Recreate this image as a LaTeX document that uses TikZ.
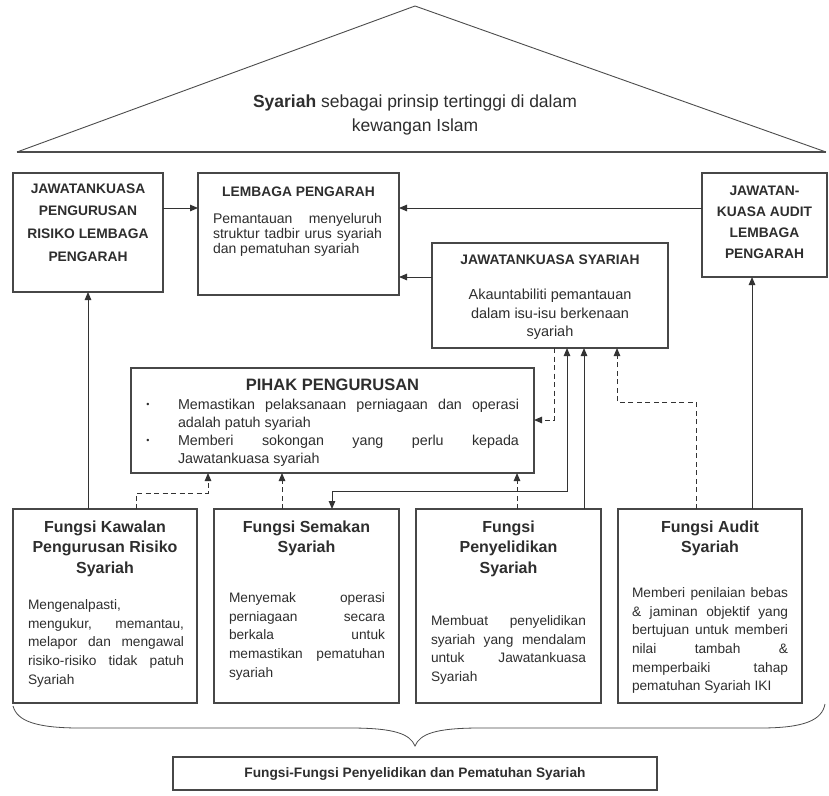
\documentclass[tikz,border=0pt]{standalone}
\usepackage{fontspec}
\setmainfont{Liberation Sans}
\usetikzlibrary{arrows.meta,calc}
\newcommand\J[2]{\makebox[#1][s]{#2}}
\begin{document}
\begin{tikzpicture}[x=1pt,y=-1pt,
  box/.style={draw=black!72,line width=1.1pt,inner sep=0pt,outer sep=0pt,fill=white},
  txt/.style={inner sep=0pt,outer sep=0pt,text=black!82},
  hdr/.style={txt,align=center,font=\bfseries\fontsize{13.8}{21}\selectfont},
  fhdr/.style={txt,align=center,font=\bfseries\fontsize{16}{20.5}\selectfont},
  body/.style={txt,align=left,font=\fontsize{13.7}{18.7}\selectfont},
  arr/.style={draw=black!80,line width=1pt,-{Triangle[length=8pt,width=6.5pt]}},
  biarr/.style={draw=black!80,line width=1pt,{Triangle[length=8pt,width=6.5pt]}-{Triangle[length=8pt,width=6.5pt]}},
  darr/.style={arr,dash pattern=on 5pt off 3.5pt},
  roofline/.style={draw=black!70,line width=0.9pt},
  bracel/.style={draw=black!70,line width=0.8pt}
]
\useasboundingbox (0,0) rectangle (829,795);
\fill[white] (0,0) rectangle (829,795);

% roof
\draw[roofline] (17,152) -- (415,6) -- (826,152);
\draw[draw=black!70,line width=1.6pt] (17,152) -- (826,152);
\node[txt,anchor=north,align=center,font=\fontsize{17.5}{23.5}\selectfont] (troof) at (415,95)
  {\textbf{Syariah} sebagai prinsip tertinggi di dalam\\kewangan Islam};

% boxes
\node[box,minimum width=150pt,minimum height=119pt] (jrlp) at (88,232.5) {};
\node[box,minimum width=201pt,minimum height=122pt] (lp) at (298.5,234) {};
\node[box,minimum width=125pt,minimum height=104pt] (jka) at (764.5,225) {};
\node[box,minimum width=236pt,minimum height=105pt] (js) at (550,295.5) {};
\node[box,minimum width=403pt,minimum height=105pt] (pp) at (332.5,420.5) {};
\node[box,minimum width=184pt,minimum height=194pt] (kaw) at (105,606) {};
\node[box,minimum width=185pt,minimum height=194pt] (sem) at (306.5,606) {};
\node[box,minimum width=185pt,minimum height=194pt] (pen) at (508.5,606) {};
\node[box,minimum width=184pt,minimum height=194pt] (aud) at (710,606) {};
\node[box,minimum width=484pt,minimum height=33pt] (fin) at (415,773.5) {};

% helper coordinates
\coordinate (yA) at (0,208);
\coordinate (yB) at (0,277);
\coordinate (yC) at (0,491);
\coordinate (yD) at (0,493);
\coordinate (yE) at (0,420);
\coordinate (yF) at (0,402);
\coordinate (xA) at (752,0);
\coordinate (xB) at (584,0);
\coordinate (xC) at (567,0);
\coordinate (xD) at (332,0);
\coordinate (xE) at (136,0);
\coordinate (xF) at (208,0);
\coordinate (xG) at (282,0);
\coordinate (xH) at (517,0);
\coordinate (xI) at (554,0);
\coordinate (xJ) at (696,0);
\coordinate (xK) at (617,0);

% connectors
\draw[arr] (jrlp.east |- yA) -- (lp.west |- yA);
\draw[arr] (jka.west |- yA) -- (lp.east |- yA);
\draw[arr] (js.west |- yB) -- (lp.east |- yB);
\draw[arr] (kaw.north -| jrlp.south) -- (jrlp.south);
\draw[arr] (aud.north -| xA) -- (jka.south -| xA);
\draw[arr] (pen.north -| xB) -- (js.south -| xB);
\draw[biarr] (sem.north -| xD) -- (xD |- yC) -- (xC |- yC) -- (js.south -| xC);
\draw[darr] (kaw.north -| xE) -- (xE |- yD) -- (xF |- yD) -- (pp.south -| xF);
\draw[darr] (sem.north -| xG) -- (pp.south -| xG);
\draw[darr] (pen.north -| xH) -- (pp.south -| xH);
\draw[darr] (js.south -| xI) -- (xI |- yE) -- (pp.east |- yE);
\draw[darr] (aud.north -| xJ) -- (xJ |- yF) -- (xK |- yF) -- (js.south -| xK);

% brace
\draw[bracel] (13,706) .. controls (17,721) and (36,728) .. (80,728) -- (350,728)
  .. controls (395,728) and (410,734) .. (415,746)
  .. controls (420,734) and (435,728) .. (480,728) -- (760,728)
  .. controls (805,728) and (822,720) .. (825,704);

% texts upper
\node[hdr,anchor=north,font=\bfseries\fontsize{13.8}{22.7}\selectfont] (tjrlp) at (88,183.5)
  {JAWATANKUASA\\PENGURUSAN\\RISIKO LEMBAGA\\PENGARAH};
\node[hdr,anchor=north] (tlp) at (298.5,186.5) {LEMBAGA PENGARAH};
\node[txt,anchor=north west,align=left,font=\fontsize{14}{15}\selectfont] (blp) at (213,213.5)
  {\J{169pt}{Pemantauan menyeluruh}\\\J{169pt}{struktur tadbir urus syariah}\\dan pematuhan syariah};
\node[hdr,anchor=north] (tjka) at (764.5,186.5) {JAWATAN-\\KUASA AUDIT\\LEMBAGA\\PENGARAH};
\node[hdr,anchor=north] (tjs) at (550,254.5) {JAWATANKUASA SYARIAH};
\node[txt,anchor=north,align=center,font=\fontsize{14.5}{18.5}\selectfont] (bjs) at (550,289)
  {Akauntabiliti pemantauan\\dalam isu-isu berkenaan\\syariah};

% pihak pengurusan
\node[txt,anchor=north,font=\bfseries\fontsize{16.5}{20}\selectfont] (tpp) at (332.5,378.5) {PIHAK PENGURUSAN};
\node[txt,anchor=north west,align=left,font=\fontsize{14.3}{17.8}\selectfont] (bpp) at (178,399.3)
  {\J{341pt}{Memastikan pelaksanaan perniagaan dan operasi}\\adalah patuh syariah\\\J{341pt}{Memberi sokongan yang perlu kepada}\\Jawatankuasa syariah};
\node[txt,font=\fontsize{9}{10}\selectfont] (bul1) at (148,405) {\textbullet};
\node[txt,font=\fontsize{9}{10}\selectfont] (bul2) at (148,441) {\textbullet};

% bottom boxes
\node[fhdr,anchor=north] (tkaw) at (105,520.6) {Fungsi Kawalan\\Pengurusan Risiko\\Syariah};
\node[body,anchor=north west] (bkaw) at (28,599.5)
  {Mengenalpasti,\\\J{156pt}{mengukur, memantau,}\\\J{156pt}{melapor dan mengawal}\\\J{156pt}{risiko-risiko tidak patuh}\\Syariah};
\node[fhdr,anchor=north] (tsem) at (306.5,520.6) {Fungsi Semakan\\Syariah};
\node[body,anchor=north west] (bsem) at (229,592.5)
  {\J{156pt}{Menyemak operasi}\\\J{156pt}{perniagaan secara}\\\J{156pt}{berkala untuk}\\\J{156pt}{memastikan pematuhan}\\syariah};
\node[fhdr,anchor=north] (tpen) at (508.5,520.6) {Fungsi\\Penyelidikan\\Syariah};
\node[body,anchor=north west] (bpen) at (431,615.5)
  {\J{155pt}{Membuat penyelidikan}\\\J{155pt}{syariah yang mendalam}\\\J{155pt}{untuk Jawatankuasa}\\Syariah};
\node[fhdr,anchor=north] (taud) at (710,520.6) {Fungsi Audit\\Syariah};
\node[body,anchor=north west] (baud) at (632,587.5)
  {\J{156pt}{Memberi penilaian bebas}\\\J{156pt}{\& jaminan objektif yang}\\\J{156pt}{bertujuan untuk memberi}\\\J{156pt}{nilai tambah \&}\\\J{156pt}{memperbaiki tahap}\\pematuhan Syariah IKI};

% final
\node[txt,font=\bfseries\fontsize{13.7}{16}\selectfont] (tfin) at (415,774)
  {Fungsi-Fungsi Penyelidikan dan Pematuhan Syariah};
\end{tikzpicture}
\end{document}
